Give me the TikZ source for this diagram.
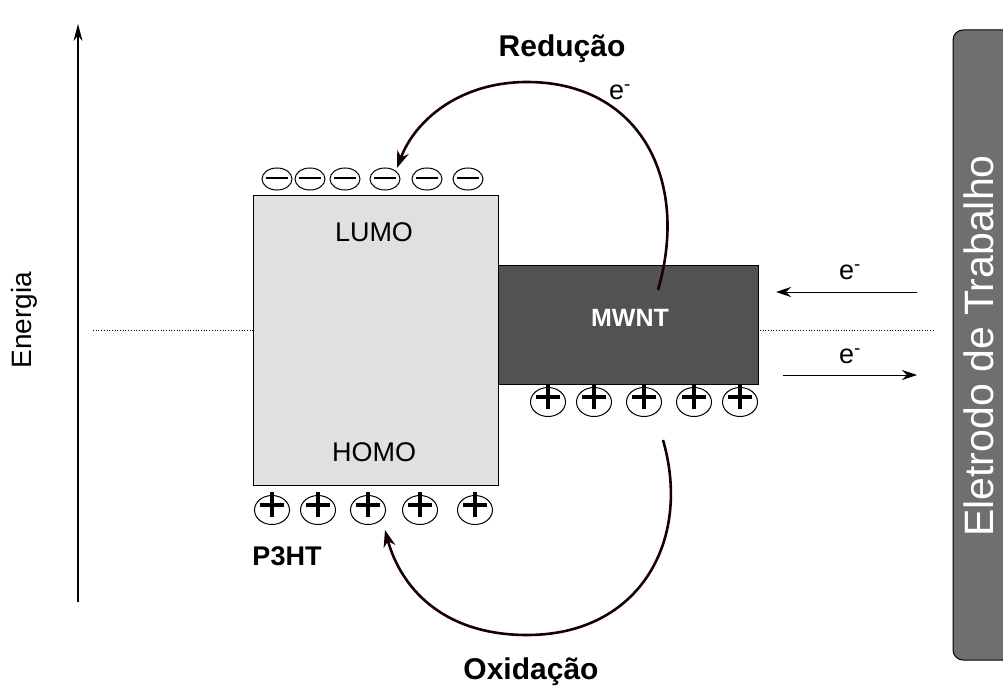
\documentclass[tikz,border=0pt]{standalone}
\usepackage{fontspec}
\setmainfont{Liberation Sans}
\usetikzlibrary{arrows.meta,shapes.geometric}

\tikzset{
  base/.style={font=\fontsize{27}{30}\selectfont},
  boldlabel/.style={font=\fontsize{30}{33}\selectfont\bfseries},
  band/.style={draw=black, line width=0.8pt},
  chargering/.style={draw, ellipse, line width=1pt, inner sep=0pt},
  minuscharge/.style={chargering, minimum width=30pt, minimum height=22pt},
  pluscharge/.style={chargering, minimum width=35pt, minimum height=29pt},
  plusbar/.style={line width=4pt},
  flow/.style={line width=2.6pt, draw=black!90!red, -{Stealth[length=17pt,width=12pt]}},
  eflow/.style={line width=1pt, -{Stealth[length=15pt,width=10pt]}},
}
\definecolor{lumogray}{HTML}{E0E0E0}
\definecolor{tubegray}{HTML}{525252}
\definecolor{electrodegray}{HTML}{6F6F6F}

\begin{document}
\begin{tikzpicture}[x=1pt, y=-1pt]
\useasboundingbox (0,0) rectangle (1003,690);

% energy axis
\coordinate (axisbot) at (78,602);
\coordinate (axistop) at (78,24);
\draw[line width=1.2pt, -{Stealth[length=17pt,width=9pt]}] (axisbot) -- (axistop);
\node[base, font=\fontsize{28}{30}\selectfont, rotate=90] (energia) at (24,320) {Energia};

% Fermi level
\coordinate (fermiL) at (93,330);
\coordinate (fermiR) at (933,330);
\draw[dotted, line width=0.7pt] (fermiL) -- (fermiR);

% P3HT band block
\node[band, fill=lumogray, minimum width=245pt, minimum height=290pt, inner sep=0pt, anchor=north west] (p3ht) at (253,195) {};
\node[base] (lumo) at (374,232) {LUMO};
\node[base] (homo) at (374,452) {HOMO};
\node[font=\fontsize{27}{30}\selectfont\bfseries] (p3htlbl) at (287,556) {P3HT};

% MWNT block
\node[band, fill=tubegray, minimum width=260pt, minimum height=119pt, inner sep=0pt, anchor=north west] (mwnt) at (498,265) {};
\node[font=\fontsize{25}{28}\selectfont\bfseries, text=white] (mwntlbl) at (630,318) {MWNT};

% negative charges on the LUMO
\foreach \i/\x in {1/277,2/310,3/345,4/385,5/427,6/468}{
  \node[minuscharge] (m\i) at (\x,179) {};
  \draw[line width=1.8pt] ([xshift=-11pt,yshift=1pt]m\i.center) -- ([xshift=11pt,yshift=1pt]m\i.center);
}

% positive charges on the HOMO
\foreach \i/\x in {1/272,2/318,3/368,4/420,5/475}{
  \node[pluscharge] (h\i) at (\x,510) {};
  \draw[plusbar] ([xshift=-12pt,yshift=5pt]h\i.center) -- ([xshift=12pt,yshift=5pt]h\i.center);
  \draw[plusbar] ([yshift=-7pt]h\i.center) -- ([yshift=18pt]h\i.center);
}

% positive charges below the MWNT
\foreach \i/\x in {1/548,2/594,3/644,4/694,5/740}{
  \node[pluscharge] (t\i) at (\x,402) {};
  \draw[plusbar] ([xshift=-12pt,yshift=5pt]t\i.center) -- ([xshift=12pt,yshift=5pt]t\i.center);
  \draw[plusbar] ([yshift=-7pt]t\i.center) -- ([yshift=18pt]t\i.center);
}

% reduction path
\coordinate (redstart) at (658,290);
\coordinate (redend) at (397,168);
\draw[flow] (redstart) .. controls (690,180) and (640,82) .. (527,82)
             .. controls (460,82) and (415,120) .. (redend);
\node[boldlabel] (reducao) at (562,49) {Redução};
\node[base] (eredu) at (620,92) {e\textsuperscript{-}};

% oxidation path
\coordinate (oxstart) at (663,440);
\coordinate (oxend) at (385,530);
\draw[flow] (oxstart) .. controls (692,540) and (640,635) .. (527,635)
             .. controls (440,635) and (400,585) .. (oxend);
\node[boldlabel] (oxidacao) at (531,672) {Oxidação};

% electron exchange with the electrode
\coordinate (inR) at (917,292);
\coordinate (inL) at (776,292);
\coordinate (outL) at (783,375);
\coordinate (outR) at (917,375);
\draw[eflow] (inR) -- (inL);
\draw[eflow] (outL) -- (outR);
\node[base] (ein) at (850,272) {e\textsuperscript{-}};
\node[base] (eout) at (850,356) {e\textsuperscript{-}};

% working electrode
\draw[fill=electrodegray, line width=1pt, rounded corners=10pt] (953,30) rectangle (1020,660);
\node[font=\fontsize{41}{44}\selectfont, text=white, rotate=90] (eletrodo) at (979,346) {Eletrodo de Trabalho};
\end{tikzpicture}
\end{document}
